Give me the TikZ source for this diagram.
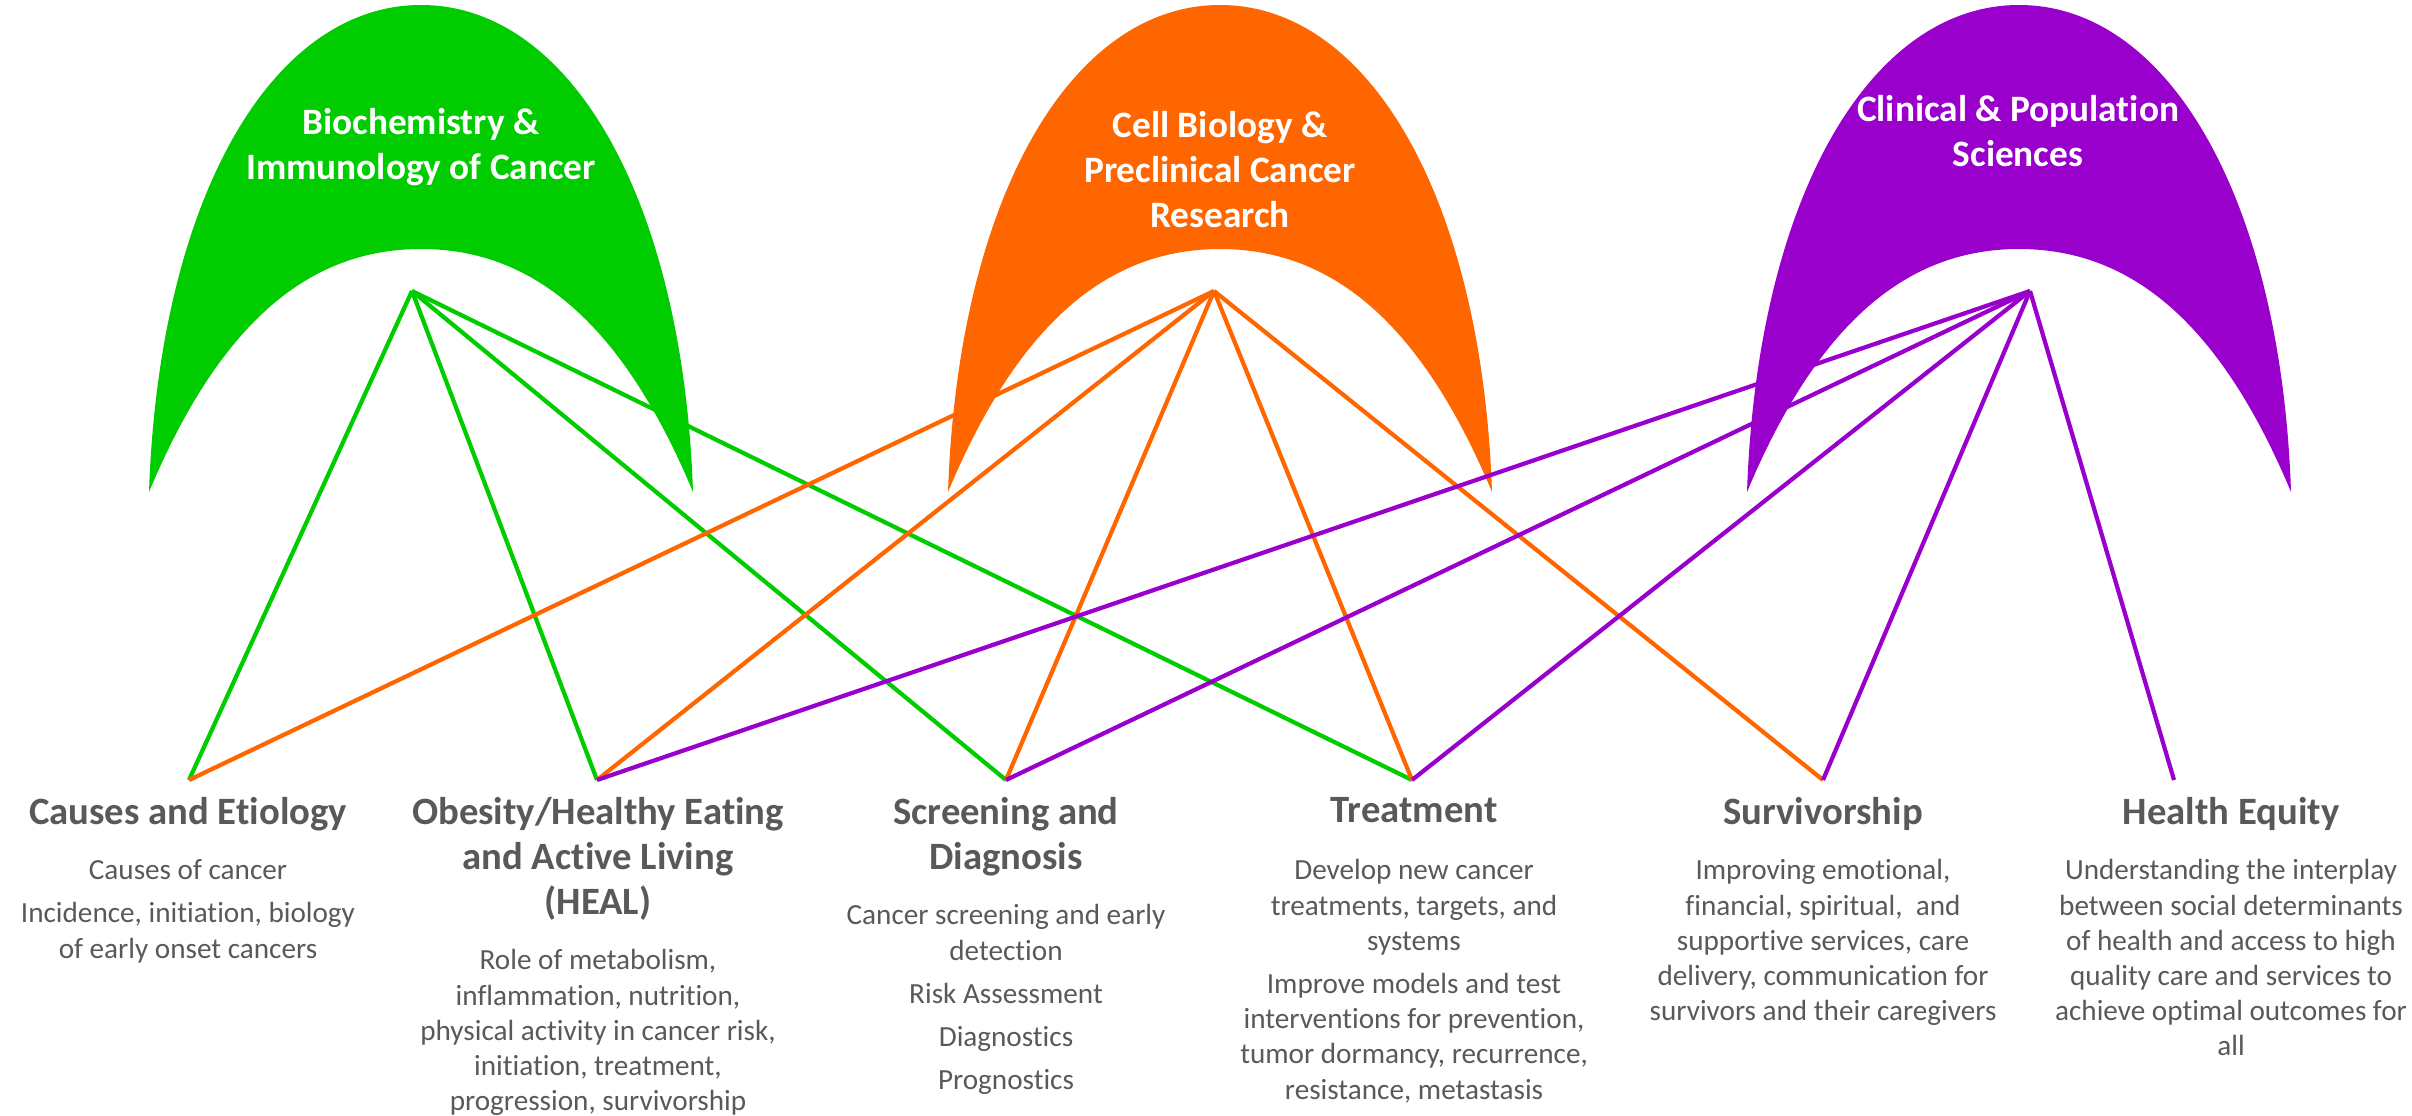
\documentclass[tikz,border=0pt]{standalone}
\usepackage{fontspec}
\setmainfont{Carlito}[Ligatures=NoCommon]
\definecolor{bioGreen}{RGB}{0,204,0}
\definecolor{cellOrange}{RGB}{255,102,0}
\definecolor{clinPurple}{RGB}{153,0,204}
\definecolor{textGray}{RGB}{89,89,89}

\begin{document}
\begin{tikzpicture}[x = 0.01cm, y = -0.01cm]
\tikzstyle{archLabelStyle} = [text = white, font = \fontsize{10.6}{12.8}\selectfont\bfseries, align = center, inner sep = 0pt]
\tikzstyle{headStyle} = [anchor = north, text = textGray, font = \fontsize{11}{12.8}\selectfont\bfseries, align = center, inner sep = 0pt]
\tikzstyle{bodyStyle} = [anchor = north, text = textGray, font = \fontsize{8.3}{10}\selectfont, align = center, inner sep = 0pt]
\tikzstyle{EdgeStyle} = [line width = 1.2pt]
\useasboundingbox (0,0) rectangle (2412,1115);
% arches
\fill[bioGreen] (149,492) .. controls (159,200) and (271,5) .. (421,5) .. controls (571,5) and (683,200) .. (693,492)
  .. controls (621,320) and (531,249) .. (421,249) .. controls (311,249) and (221,320) .. cycle;
\fill[cellOrange] (948,492) .. controls (958,200) and (1070,5) .. (1220,5) .. controls (1370,5) and (1482,200) .. (1492,492)
  .. controls (1420,320) and (1330,249) .. (1220,249) .. controls (1110,249) and (1020,320) .. cycle;
\fill[clinPurple] (1747,492) .. controls (1757,200) and (1869,5) .. (2019,5) .. controls (2169,5) and (2281,200) .. (2291,492)
  .. controls (2219,320) and (2129,249) .. (2019,249) .. controls (1909,249) and (1819,320) .. cycle;
\node[archLabelStyle] (bioLabel) at (421,147) {Biochemistry \&\\Immunology of Cancer};
\node[archLabelStyle] (cellLabel) at (1220,170) {Cell Biology \&\\Preclinical Cancer\\Research};
\node[archLabelStyle] (clinLabel) at (2018,131) {Clinical \& Population\\Sciences};
% apexes and ends
\coordinate (bio) at (412,291);
\coordinate (cell) at (1214,291);
\coordinate (clin) at (2030,291);
\coordinate (causes) at (189,780);
\coordinate (heal) at (597,780);
\coordinate (screen) at (1006,780);
\coordinate (treat) at (1412,780);
\coordinate (surv) at (1823,780);
\coordinate (equity) at (2174,780);
% edges
\draw[EdgeStyle, bioGreen] (bio) -- (causes);
\draw[EdgeStyle, bioGreen] (bio) -- (heal);
\draw[EdgeStyle, bioGreen] (bio) -- (screen);
\draw[EdgeStyle, bioGreen] (bio) -- (treat);
\draw[EdgeStyle, cellOrange] (cell) -- (causes);
\draw[EdgeStyle, cellOrange] (cell) -- (heal);
\draw[EdgeStyle, cellOrange] (cell) -- (screen);
\draw[EdgeStyle, cellOrange] (cell) -- (treat);
\draw[EdgeStyle, cellOrange] (cell) -- (surv);
\draw[EdgeStyle, clinPurple] (clin) -- (heal);
\draw[EdgeStyle, clinPurple] (clin) -- (screen);
\draw[EdgeStyle, clinPurple] (clin) -- (treat);
\draw[EdgeStyle, clinPurple] (clin) -- (surv);
\draw[EdgeStyle, clinPurple] (clin) -- (equity);
% headings
\node[headStyle] (causesHead) at (188,797) {Causes and Etiology};
\node[headStyle] (healHead) at (598,797) {Obesity/Healthy Eating\\and Active Living\\(HEAL)};
\node[headStyle] (screenHead) at (1006,797) {Screening and\\Diagnosis};
\node[headStyle] (treatHead) at (1414,797) {Treatment};
\node[headStyle] (survHead) at (1823,797) {Survivorship};
\node[headStyle] (equityHead) at (2231,797) {Health Equity};
% texts
\node[bodyStyle] (causesText) at (188,859) {Causes of cancer\\[2.3pt]Incidence, initiation, biology\\of early onset cancers};
\node[bodyStyle] (healText) at (598,949) {Role of metabolism,\\inflammation, nutrition,\\physical activity in cancer risk,\\initiation, treatment,\\progression, survivorship};
\node[bodyStyle] (screenText) at (1006,904) {Cancer screening and early\\detection\\[2.3pt]Risk Assessment\\[2.3pt]Diagnostics\\[2.3pt]Prognostics};
\node[bodyStyle] (treatText) at (1414,859) {Develop new cancer\\treatments, targets, and\\systems\\[2.3pt]Improve models and test\\interventions for prevention,\\tumor dormancy, recurrence,\\resistance, metastasis};
\node[bodyStyle] (survText) at (1823,859) {Improving emotional,\\financial, spiritual,~ and\\supportive services, care\\delivery, communication for\\survivors and their caregivers};
\node[bodyStyle] (equityText) at (2231,859) {Understanding the interplay\\between social determinants\\of health and access to high\\quality care and services to\\achieve optimal outcomes for\\all};
\end{tikzpicture}
\end{document}
